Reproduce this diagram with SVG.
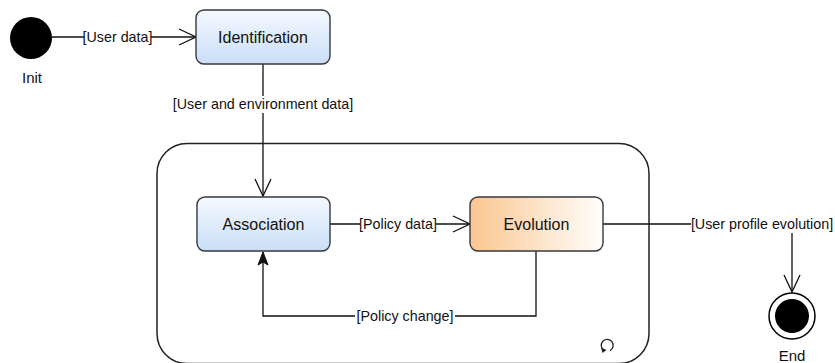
<svg xmlns="http://www.w3.org/2000/svg" width="835" height="363" viewBox="0 0 835 363">
  <style>
    .box { stroke: #36393d; stroke-width: 1.4; }
    .lbl { font-family: "Liberation Sans", Arial, sans-serif; font-size: 16px; fill: #111; text-anchor: middle; }
    .elbl { font-family: "Liberation Sans", Arial, sans-serif; font-size: 14.3px; fill: #111; text-anchor: middle; }
    .edge { fill: none; stroke: #111; stroke-width: 1.3; }
    .bg { fill: #fff; stroke: none; }
  </style>
  <defs>
    <linearGradient id="blue" x1="0" y1="0" x2="0" y2="1">
      <stop offset="0" stop-color="#f5f9ff"/>
      <stop offset="1" stop-color="#c9def7"/>
    </linearGradient>
    <linearGradient id="orange" x1="0" y1="0" x2="1" y2="0">
      <stop offset="0" stop-color="#fbc690"/>
      <stop offset="1" stop-color="#fffefc"/>
    </linearGradient>
    <marker id="open" viewBox="0 0 20 20" refX="18" refY="10" markerWidth="20" markerHeight="20" markerUnits="userSpaceOnUse" orient="auto">
      <path d="M1,2 L18,10 L1,18" fill="none" stroke="#111" stroke-width="1.3"/>
    </marker>
    <marker id="block" viewBox="0 0 16 12" refX="14" refY="6" markerWidth="16" markerHeight="12" markerUnits="userSpaceOnUse" orient="auto">
      <path d="M14,6 L1,1 L4,6 L1,11 Z" fill="#111" stroke="#111" stroke-width="1"/>
    </marker>
  </defs>

  <!-- Container composite state -->
  <g id="container">
    <rect x="157" y="143.5" width="492" height="220" rx="30" ry="30" fill="#fff" stroke="#222" stroke-width="1.5"/>
    <path d="M603.5,350 A6 6 0 1 1 610,350.6" fill="none" stroke="#222" stroke-width="1.3"/>
    <path d="M601,347.5 L602.5,353 L606.5,350 Z" fill="#222"/>
  </g>

  <!-- Connectors -->
  <g id="connectors">
    <path class="edge" d="M52,37 L196,37" marker-end="url(#open)"/>
    <path class="edge" d="M263,64 L263,196" marker-end="url(#open)"/>
    <path class="edge" d="M330,224 L470,224" marker-end="url(#open)"/>
    <path class="edge" d="M536,251 L536,316 L263,316 L263,252" marker-end="url(#block)"/>
    <path class="edge" d="M603,224 L792,224 L792,292" marker-end="url(#open)"/>

    <rect class="bg" x="84" y="29" width="67" height="16"/>
    <text class="elbl" x="117.5" y="42">[User data]</text>

    <rect class="bg" x="172" y="96" width="182" height="17"/>
    <text class="elbl" x="263" y="109">[User and environment data]</text>

    <rect class="bg" x="360" y="216" width="76" height="16"/>
    <text class="elbl" x="398" y="229">[Policy data]</text>

    <rect class="bg" x="355" y="308" width="100" height="16"/>
    <text class="elbl" x="405" y="321">[Policy change]</text>

    <rect class="bg" x="691" y="215" width="144" height="18"/>
    <text class="elbl" x="762" y="229">[User profile evolution]</text>
  </g>

  <!-- Init -->
  <g id="init">
    <circle cx="31" cy="38" r="21" fill="#000"/>
    <text class="lbl" x="32" y="83" style="font-size:15px">Init</text>
  </g>

  <!-- Identification -->
  <g id="identification">
    <rect class="box" x="196" y="10" width="134" height="54" rx="8" ry="8" fill="url(#blue)"/>
    <text class="lbl" x="263" y="43">Identification</text>
  </g>

  <!-- Association -->
  <g id="association">
    <rect class="box" x="197" y="197" width="133" height="54" rx="8" ry="8" fill="url(#blue)"/>
    <text class="lbl" x="263.5" y="230">Association</text>
  </g>

  <!-- Evolution -->
  <g id="evolution">
    <rect class="box" x="470" y="197" width="133" height="54" rx="8" ry="8" fill="url(#orange)"/>
    <text class="lbl" x="536.5" y="230">Evolution</text>
  </g>

  <!-- End -->
  <g id="end">
    <circle cx="792" cy="316" r="23" fill="#fff" stroke="#000" stroke-width="1.5"/>
    <circle cx="792" cy="316" r="17" fill="#000"/>
    <text class="lbl" x="792" y="361" style="font-size:15px">End</text>
  </g>
</svg>
